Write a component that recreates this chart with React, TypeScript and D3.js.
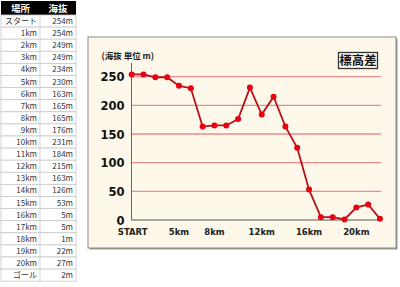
import React from "react";
import * as d3 from "d3";

const places = ["スタート","1km","2km","3km","4km","5km","6km","7km","8km","9km","10km","11km","12km","13km","14km","15km","16km","17km","18km","19km","20km","ゴール"];
const elevations = [254,254,249,249,234,230,163,165,165,176,231,184,215,163,126,53,5,5,1,22,27,2];
const xTickLabels = ["START","","","","5km","","","8km","","","","12km","","","","16km","","","","20km","",""];
const yTicks = [0,50,100,150,200,250];
const tableHeader = ["場所","海抜"];
const title = "標高差";
const unitLabel = "(海抜 単位 m)";

export default function App() {
  const W = 400, H = 287;
  const x = d3.scalePoint<number>().domain(d3.range(elevations.length)).range([131.7, 380]);
  const y = d3.scaleLinear().domain([0, 250]).range([220, 76.7]);
  const line = d3.line<number>().x((_, i) => x(i)!).y(d => y(d));
  const jp = "'Noto Sans CJK JP', sans-serif";
  const num = "'DejaVu Sans', sans-serif";

  const tX0 = 1, tXm = 40, tX1 = 76, hdrTop = 1, hdrH = 14, rowH = 12.1;
  const rowTop = hdrTop + hdrH;

  return (
    <svg width={W} height={H} style={{ position: "absolute", left: 0, top: 0 }}>
      {/* table */}
      <rect x={tX0} y={hdrTop} width={tX1 - tX0} height={hdrH} fill="#000" />
      {tableHeader.map((h, i) => (
        <text key={h} x={i === 0 ? (tX0 + tXm) / 2 : (tXm + tX1) / 2} y={hdrTop + hdrH / 2 + 3.5}
          textAnchor="middle" fill="#fff" fontSize={9.5} fontWeight="bold" fontFamily={jp}>{h}</text>
      ))}
      {places.map((p, i) => {
        const ry = rowTop + i * rowH;
        return (
          <g key={p}>
            <rect x={tX0} y={ry} width={tX1 - tX0} height={rowH} fill="#fff" stroke="#c8c8c8" strokeWidth={0.8} />
            <line x1={tXm} x2={tXm} y1={ry} y2={ry + rowH} stroke="#c8c8c8" strokeWidth={0.8} />
            <text x={tXm - 3} y={ry + rowH / 2 + 3} textAnchor="end" fontSize={8} fill="#333" fontFamily={jp}>{p}</text>
            <text x={tX1 - 3} y={ry + rowH / 2 + 3} textAnchor="end" fontSize={8} fill="#333" fontFamily={jp}>{elevations[i]}m</text>
          </g>
        );
      })}

      {/* chart panel */}
      <rect x={89.5} y={38.5} width={308} height={211} fill="#999" />
      <rect x={88} y={37} width={308} height={211} fill="#fdf8ea" stroke="#8a8a8a" strokeWidth={1} />

      <text x={101.5} y={59} fontSize={8.5} fontFamily={jp} fill="#222" fontWeight="bold">{unitLabel}</text>

      <rect x={338.5} y={52.5} width={39} height={16} fill="#fffdf5" stroke="#333" strokeWidth={1.3} />
      <text x={358} y={65} textAnchor="middle" fontSize={12.5} fontWeight="bold" fontFamily={jp} fill="#111">{title}</text>

      {yTicks.filter(t => t > 0).map(t => (
        <line key={t} x1={131.5} x2={381} y1={y(t)} y2={y(t)} stroke="#f08a8a" strokeWidth={1.3} />
      ))}
      <line x1={131.5} x2={131.5} y1={63} y2={220} stroke="#666" strokeWidth={1} />
      <line x1={131.5} x2={381} y1={220} y2={220} stroke="#555" strokeWidth={1} />

      {yTicks.map(t => (
        <text key={t} x={124.5} y={y(t) + 4.5} textAnchor="end" fontSize={11.5} fontWeight="bold" fontFamily={num} fill="#111">{t}</text>
      ))}
      {xTickLabels.map((l, i) => l ? (
        <text key={l} x={x(i)! + (i === 0 ? 1 : 0)} y={234.5} textAnchor="middle" fontSize={8.5} fontWeight="bold" fontFamily={num} fill="#222">{l}</text>
      ) : null)}

      <path d={line(elevations) || ""} fill="none" stroke="#b5121b" strokeWidth={1.8} />
      {elevations.map((v, i) => (
        <circle key={i} cx={x(i)!} cy={y(v)} r={3} fill="#e60012" />
      ))}
    </svg>
  );
}
